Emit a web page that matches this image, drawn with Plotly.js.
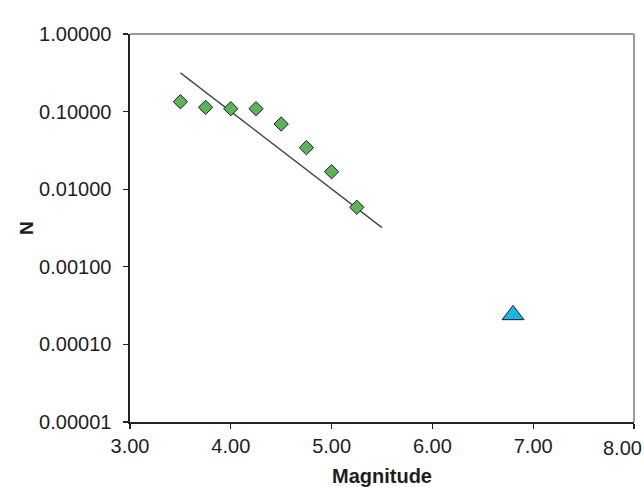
<!DOCTYPE html>
<html>
<head>
<meta charset="utf-8">
<script src="https://cdn.plot.ly/plotly-3.0.1.min.js"></script>
<style>
  html, body { margin: 0; padding: 0; background: #ffffff; }
  #chart { width: 644px; height: 487px; }
</style>
</head>
<body>
<div id="chart"></div>
<script>
// Observed magnitude-frequency data (green diamonds)
const magnitudes = [3.50, 3.75, 4.00, 4.25, 4.50, 4.75, 5.00, 5.25];
const frequencies = [0.134, 0.1135, 0.109, 0.109, 0.0692, 0.0343, 0.0168, 0.00585];

// Fitted trend line end points
const fitMagnitudes = [3.50, 5.50];
const fitFrequencies = [0.316, 0.00320];

// Single large event (blue triangle)
const eventMagnitude = [6.80];
const eventFrequency = [0.00024];

// Axis ticks
const xTickVals = [3, 4, 5, 6, 7, 8];
const xTickText = ['3.00', '4.00', '5.00', '6.00', '7.00', ''];
const yTickVals = [0.00001, 0.0001, 0.001, 0.01, 0.1, 1];
const yTickText = ['0.00001', '0.00010', '0.00100', '0.01000', '0.10000', '1.00000'];

const tickFont = { family: 'Liberation Sans, Arial, sans-serif', size: 20, color: '#1e1e1e' };
const titleFont = { family: 'Liberation Sans, Arial, sans-serif', size: 20, color: '#1e1e1e', weight: 'bold' };

const traces = [
  {
    x: fitMagnitudes,
    y: fitFrequencies,
    type: 'scatter',
    mode: 'lines',
    line: { color: '#474747', width: 1.4 },
    hoverinfo: 'skip',
    showlegend: false
  },
  {
    x: magnitudes,
    y: frequencies,
    type: 'scatter',
    mode: 'markers',
    marker: {
      symbol: 'diamond',
      size: 11,
      color: '#5db35a',
      line: { color: '#1e1e1e', width: 1 }
    },
    showlegend: false
  },
  {
    x: eventMagnitude,
    y: eventFrequency,
    type: 'scatter',
    mode: 'markers',
    marker: {
      symbol: 'triangle-up',
      size: 19,
      color: '#19b4ea',
      line: { color: '#1e1e1e', width: 1 }
    },
    showlegend: false
  }
];

const layout = {
  width: 644,
  height: 487,
  margin: { l: 130, r: 10, t: 34, b: 65 },
  paper_bgcolor: '#ffffff',
  plot_bgcolor: '#ffffff',
  showlegend: false,
  xaxis: {
    range: [3, 8],
    tickvals: xTickVals,
    ticktext: xTickText,
    ticks: 'outside',
    ticklen: 5,
    tickwidth: 1.2,
    tickcolor: '#222222',
    showgrid: false,
    zeroline: false,
    showline: true,
    linecolor: '#222222',
    linewidth: 1.6,
    tickfont: tickFont,
    title: { text: 'Magnitude', font: titleFont, standoff: 14 }
  },
  yaxis: {
    type: 'log',
    range: [-5, 0],
    tickvals: yTickVals,
    ticktext: yTickText,
    ticks: 'outside',
    ticklen: 5,
    tickwidth: 1.2,
    tickcolor: '#222222',
    showgrid: false,
    zeroline: false,
    showline: true,
    linecolor: '#222222',
    linewidth: 1.6,
    tickfont: tickFont,
    ticklabelstandoff: 8,
    title: { text: 'N', font: { family: 'Liberation Sans, Arial, sans-serif', size: 19, color: '#1e1e1e', weight: 'bold' }, standoff: 0 }
  },
  shapes: [
    // light frame on the top and right of the plot area
    { type: 'line', xref: 'paper', yref: 'paper', x0: 0, x1: 1, y0: 1, y1: 1,
      line: { color: '#9a9a9a', width: 2 } },
    { type: 'line', xref: 'paper', yref: 'paper', x0: 1, x1: 1, y0: 0, y1: 1,
      line: { color: '#9a9a9a', width: 2 } }
  ],
  annotations: [
    // last x tick label, kept inside the page edge
    { x: 8, y: 0, xref: 'x', yref: 'paper', text: '8.00', showarrow: false,
      xanchor: 'right', yanchor: 'top', xshift: 10, yshift: -13, font: tickFont }
  ]
};

Plotly.newPlot('chart', traces, layout, { displayModeBar: false, staticPlot: true });
</script>
</body>
</html>
